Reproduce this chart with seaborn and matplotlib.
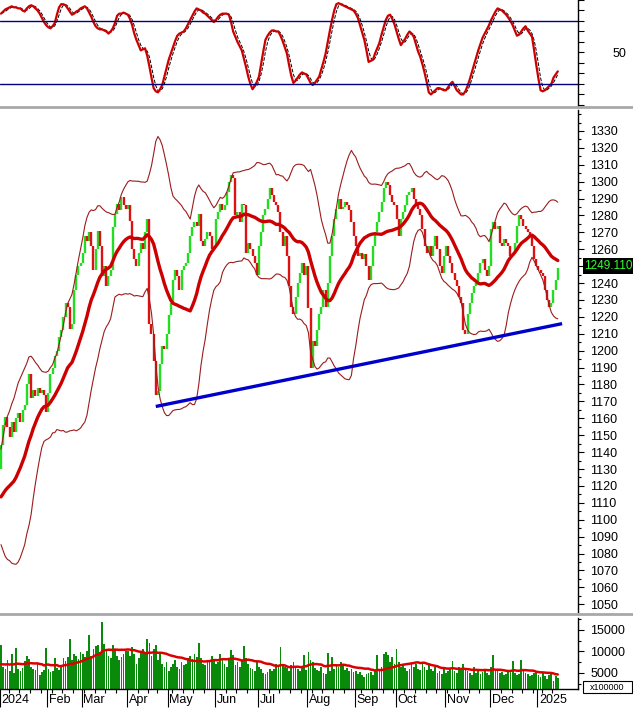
import numpy as np
import pandas as pd
import matplotlib
matplotlib.use("Agg")
import matplotlib.pyplot as plt
import matplotlib.transforms as mtransforms
import seaborn as sns
from matplotlib.lines import Line2D
from matplotlib.patches import Rectangle
from matplotlib.ticker import MultipleLocator, FixedLocator

# ---- data (VN-Index, daily) ----
# last sessions of Dec 2023, only used to warm up the 20-day indicators
warmup_close = [1118, 1122, 1125, 1124, 1131, 1125, 1115, 1104, 1102, 1097,
                1101, 1089, 1099, 1103, 1096, 1107, 1115, 1123, 1130]
warmup_vol = [7000, 6500, 7200, 6800, 7500, 6200, 6800, 7000, 6500, 7200,
              6000, 7500, 6800, 6500, 7000, 6200, 6800, 7200, 6500]

close_jan24 = [1144, 1156, 1161, 1155, 1149, 1158, 1152, 1160, 1163, 1158, 1165,
               1168, 1180, 1186, 1172, 1177, 1173, 1178, 1175, 1177, 1174, 1164]
close_feb24 = [1175, 1186, 1190, 1197, 1200, 1208, 1212, 1220, 1228, 1226, 1213,
               1216, 1236, 1245, 1250, 1252]
close_mar24 = [1258, 1268, 1265, 1270, 1262, 1248, 1260, 1271, 1262, 1244, 1250,
               1238, 1244, 1248, 1273, 1281, 1287, 1283, 1291, 1286, 1284]
close_apr24 = [1286, 1277, 1260, 1254, 1250, 1258, 1264, 1260, 1270, 1278, 1216,
               1210, 1194, 1174, 1176, 1192, 1203, 1201, 1210]
close_may24 = [1221, 1228, 1242, 1248, 1244, 1236, 1248, 1250, 1252, 1258, 1268,
               1273, 1276, 1274, 1281, 1265, 1262, 1266, 1270, 1268, 1260, 1262]
close_jun24 = [1278, 1282, 1287, 1283, 1286, 1294, 1300, 1304, 1302, 1280, 1282,
               1276, 1287, 1286, 1258, 1264, 1260, 1256, 1252, 1245]
close_jul24 = [1262, 1270, 1280, 1284, 1290, 1296, 1292, 1288, 1286, 1282, 1270,
               1262, 1268, 1256, 1238, 1226, 1222, 1232, 1240, 1246, 1252, 1245, 1250]
close_aug24 = [1225, 1190, 1206, 1203, 1212, 1222, 1226, 1236, 1226, 1240, 1256,
               1268, 1278, 1284, 1290, 1284, 1285, 1288, 1286, 1283, 1276, 1268]
close_sep24 = [1262, 1256, 1258, 1254, 1257, 1250, 1242, 1250, 1262, 1270, 1276,
               1282, 1288, 1296, 1300, 1298, 1292, 1288, 1286]
close_oct24 = [1278, 1268, 1278, 1282, 1286, 1292, 1294, 1296, 1290, 1287, 1284,
               1280, 1272, 1262, 1258, 1262, 1256, 1262, 1268, 1260, 1250, 1246, 1256]
close_nov24 = [1262, 1256, 1252, 1246, 1242, 1238, 1232, 1228, 1212, 1210, 1222,
               1228, 1234, 1238, 1240, 1246, 1252, 1254, 1248, 1244, 1250]
close_dec24 = [1272, 1276, 1272, 1274, 1264, 1262, 1266, 1264, 1262, 1256, 1258,
               1264, 1274, 1280, 1278, 1274, 1272, 1270, 1268, 1262, 1254, 1250]
close_jan25 = [1248, 1246, 1244, 1236, 1230, 1226, 1228, 1236, 1242, 1249.11]

# volume in units of 100000 shares
vol_jan24 = [11500, 6500, 6000, 8000, 5500, 9500, 5000, 10800, 6000, 5500, 6200,
             7800, 9000, 8200, 6500, 6000, 5800, 7200, 4500, 5200, 5800, 10800]
vol_feb24 = [6000, 5200, 5500, 8500, 6200, 5800, 6500, 8500, 7800, 8800, 13000,
             8000, 9500, 9000, 8200, 9800]
vol_mar24 = [9500, 8800, 10000, 13900, 9000, 10500, 11200, 11500, 9800, 16800, 11800,
             10200, 9000, 8500, 11600, 10500, 9000, 8000, 8800, 9500, 10000]
vol_apr24 = [10000, 9000, 11000, 9500, 7000, 8500, 9800, 10500, 9500, 12800, 12000,
             9000, 10500, 11500, 8000, 9500, 7000, 6500, 7500]
vol_may24 = [5500, 6500, 7200, 8000, 6500, 6000, 7500, 6800, 7000, 8500, 9000,
             8200, 9500, 8800, 12000, 8500, 7200, 6800, 8000, 7500, 9000, 8200]
vol_jun24 = [7000, 7500, 9500, 8000, 7000, 6500, 8500, 10400, 9200, 6800, 7500,
             6500, 8000, 11200, 8500, 7000, 6200, 6000, 5500, 7500]
vol_jul24 = [6500, 6000, 5000, 4800, 5200, 6000, 5500, 6000, 7200, 6800, 11000,
             7000, 6500, 6200, 5500, 6800, 7500, 6500, 6000, 5500, 6500, 9200, 5800]
vol_aug24 = [9900, 8000, 7500, 6200, 5800, 5500, 6500, 5000, 4800, 9700, 5500,
             8700, 6000, 7000, 6500, 7500, 6800, 5800, 6200, 5500, 6000, 5200]
vol_sep24 = [5500, 4800, 5200, 4500, 4000, 4800, 5000, 5200, 4500, 5500, 9200,
             6000, 6500, 9500, 9800, 9300, 7500, 8800, 7000]
vol_oct24 = [10500, 7500, 6500, 7000, 6200, 5500, 6000, 7000, 6500, 7200, 6000,
             5800, 7500, 6500, 5800, 6800, 6000, 5500, 6500, 5000, 5500, 4800, 6000]
vol_nov24 = [5000, 5500, 6000, 7800, 5500, 5000, 6500, 5800, 7200, 6000, 5500,
             5000, 4500, 6500, 5000, 5500, 4800, 5200, 6000, 5000, 4500]
vol_dec24 = [6500, 9200, 6000, 5500, 5000, 5200, 4500, 4800, 5200, 5500, 7700,
             5000, 4500, 4800, 8000, 5500, 5000, 4800, 4200, 4500, 5000, 5200]
vol_jan25 = [4500, 4000, 5000, 4200, 3500, 4500, 4800, 3200, 4200, 3800]

# stochastic %K as drawn in the upper panel (one value per session)
stoch_k = [87, 89, 91, 92, 93, 94, 93, 93, 92, 92,
           90, 89, 92, 94, 95, 94, 92, 90, 87, 83,
           79, 76, 74, 73, 75, 78, 86, 93, 96, 96,
           95, 92, 89, 86, 87, 89, 90, 92, 93, 94,
           92, 88, 84, 79, 75, 73, 72, 72, 71, 70,
           68, 70, 73, 78, 85, 87, 87, 88, 87, 86,
           82, 76, 68, 62, 57, 52, 53, 54, 47, 37,
           26, 16, 13, 12, 15, 19, 27, 35, 43, 49,
           55, 61, 66, 68, 69, 70, 73, 77, 81, 85,
           89, 92, 91, 90, 88, 87, 85, 83, 81, 79,
           81, 84, 86, 87, 87, 87, 86, 79, 70, 65,
           60, 56, 52, 44, 36, 27, 20, 15, 18, 22,
           27, 39, 51, 62, 66, 69, 71, 71, 70, 70,
           66, 61, 55, 49, 38, 28, 21, 23, 26, 29,
           31, 30, 29, 25, 21, 19, 21, 24, 27, 34,
           41, 49, 60, 71, 81, 90, 96, 97, 96, 95,
           94, 93, 92, 91, 90, 87, 83, 76, 69, 62,
           52, 41, 42, 43, 49, 54, 59, 67, 74, 81,
           85, 86, 82, 77, 70, 63, 57, 60, 63, 67,
           70, 68, 65, 58, 51, 46, 39, 31, 22, 12,
           10, 12, 14, 16, 16, 15, 14, 14, 17, 20,
           22, 18, 14, 12, 10, 10, 13, 18, 24, 31,
           38, 45, 52, 58, 64, 68, 72, 76, 81, 85,
           89, 92, 91, 90, 88, 86, 83, 80, 76, 71,
           66, 67, 70, 73, 75, 71, 68, 65, 52, 38,
           25, 14, 13, 14, 16, 18, 20, 26, 29, 32]

holidays = ["2024-01-01", "2024-02-08", "2024-02-09", "2024-02-12", "2024-02-13",
            "2024-02-14", "2024-04-18", "2024-04-29", "2024-04-30", "2024-05-01",
            "2024-09-02", "2024-09-03", "2025-01-01"]

# support trendline drawn on the chart (session index, price)
trend_idx = [72, 261]
trend_price = [1167, 1216]
last_price = "1249.110"

# ---- indicators ----
closes = (close_jan24 + close_feb24 + close_mar24 + close_apr24 + close_may24 +
          close_jun24 + close_jul24 + close_aug24 + close_sep24 + close_oct24 +
          close_nov24 + close_dec24 + close_jan25)
vols = (vol_jan24 + vol_feb24 + vol_mar24 + vol_apr24 + vol_may24 + vol_jun24 +
        vol_jul24 + vol_aug24 + vol_sep24 + vol_oct24 + vol_nov24 + vol_dec24 + vol_jan25)

c = pd.Series(warmup_close + closes, dtype=float)
v = pd.Series(warmup_vol + vols, dtype=float)
nw = len(warmup_close)

ma = c.rolling(20).mean()
sd = c.rolling(20).std(ddof=0)

df = pd.DataFrame({
    "close": c, "open": c.shift(1), "ma": ma, "upper": ma + 2 * sd, "lower": ma - 2 * sd,
    "vol": v, "vol_ma": v.rolling(20).mean(),
}).iloc[nw:].reset_index(drop=True)
df["k"] = stoch_k
df["d"] = df["k"].rolling(3, min_periods=1).mean()
df["x"] = np.arange(len(df))
df["date"] = pd.date_range("2024-01-02", periods=len(df),
                           freq=pd.offsets.CustomBusinessDay(holidays=holidays))

# ---- figure ----
sns.set_theme(style="white")
plt.rcParams["font.family"] = ["Liberation Sans", "DejaVu Sans"]

W, H = 633, 709
fig = plt.figure(figsize=(W / 100, H / 100), dpi=100)


def px_axes(top, bottom):
    return fig.add_axes([0, 1 - bottom / H, 578 / W, (bottom - top) / H])


ax_top = px_axes(0, 106)
ax = px_axes(110, 612)
ax_vol = px_axes(618, 689)

green = "#22dd22"
red = "#dd1111"

# oscillator
sns.lineplot(data=df, x="x", y="d", ax=ax_top, color="black", lw=0.7, linestyle="--")
sns.lineplot(data=df, x="x", y="k", ax=ax_top, color="#cc0000", lw=1.6)
ax_top.axhline(80, color="#000080", lw=1)
ax_top.axhline(20, color="#000080", lw=1)
ax_top.set_ylim(-1, 100)

# price
up = df["close"] >= df["open"]
ax.vlines(df["x"][up], df["open"][up], df["close"][up], color=green, lw=1.7)
ax.vlines(df["x"][~up], df["open"][~up], df["close"][~up], color=red, lw=1.7)
sns.lineplot(data=df, x="x", y="upper", ax=ax, color="#9b1c1c", lw=0.8)
sns.lineplot(data=df, x="x", y="lower", ax=ax, color="#9b1c1c", lw=0.8)
sns.lineplot(data=df, x="x", y="ma", ax=ax, color="#cc0000", lw=2.4)
ax.plot(trend_idx, trend_price, color="#0000cc", lw=2.4, solid_capstyle="butt")
ax.set_ylim(1045.4, 1342.4)

# volume
ax_vol.bar(df["x"], df["vol"], width=0.8, color="#0a8a0a", linewidth=0)
sns.lineplot(data=df, x="x", y="vol_ma", ax=ax_vol, color="#dd0000", lw=1.8)
ax_vol.set_ylim(1279, 17790)

for a in (ax_top, ax, ax_vol):
    a.set_xlim(-0.47, 268.4)
    a.set_xlabel("")
    a.set_ylabel("")
    a.set_facecolor("white")
    for s in ("left", "top", "bottom"):
        a.spines[s].set_visible(False)
    a.spines["right"].set_color("black")
    a.spines["right"].set_linewidth(1)
    a.yaxis.tick_right()
    a.tick_params(axis="y", which="both", right=True, left=False, direction="out",
                  colors="black", width=0.8, labelsize=9, pad=5)
    a.tick_params(axis="y", which="major", length=4)
    a.tick_params(axis="y", which="minor", length=2.5)
    a.set_xticks([])

# price ticks; the 1250 label sits under the last-price tag
price_ticks = list(range(1050, 1331, 10))
ax.yaxis.set_major_locator(FixedLocator(price_ticks))
ax.set_yticklabels(["" if t == 1250 else str(t) for t in price_ticks])
ax.yaxis.set_minor_locator(MultipleLocator(5))

ax_top.yaxis.set_major_locator(FixedLocator(range(0, 101, 10)))
ax_top.set_yticklabels(["50" if t == 50 else "" for t in range(0, 101, 10)])
ax_top.tick_params(axis="y", pad=21)

ax_vol.yaxis.set_major_locator(FixedLocator([5000, 10000, 15000]))
ax_vol.yaxis.set_minor_locator(MultipleLocator(2500))

# x axis with month ticks
ax_vol.spines["bottom"].set_visible(True)
ax_vol.spines["bottom"].set_color("black")
ax_vol.spines["bottom"].set_linewidth(1)
month_start = df.groupby(df["date"].dt.to_period("M"))["x"].min()
mondays = df.loc[(df["date"].dt.dayofweek == 0) & ~df["x"].isin(month_start.values), "x"]
ax_vol.set_xticks(month_start.values - 0.5)
ax_vol.set_xticks(mondays.values - 0.5, minor=True)
ax_vol.set_xticklabels([])
ax_vol.tick_params(axis="x", which="major", bottom=True, direction="out", length=13,
                   width=0.8, colors="black")
ax_vol.tick_params(axis="x", which="minor", bottom=True, direction="out", length=3,
                   width=0.8, colors="black")
trans = mtransforms.blended_transform_factory(ax_vol.transData, fig.transFigure)
for per, xi in month_start.items():
    lab = str(per.year) if per.month == 1 else per.strftime("%b")
    ax_vol.text(xi + 0.3, 1 - 700 / H, lab, transform=trans, ha="left", va="center",
                fontsize=9, color="black", clip_on=False)

# panel separators
for yy in (107, 614):
    fig.add_artist(Line2D([0, 1], [1 - yy / H, 1 - yy / H], transform=fig.transFigure,
                          color="#a8a8a8", lw=2))

# last price tag
fig.add_artist(Rectangle((583 / W, 1 - 274 / H), 50 / W, 16 / H, transform=fig.transFigure,
                         facecolor="black", edgecolor="none", zorder=5))
fig.text(608 / W, 1 - 266 / H, last_price, color="#33ff33", fontsize=8.5,
         ha="center", va="center", zorder=6)

# volume unit box
fig.add_artist(Rectangle((583 / W, 1 - 693 / H), 49 / W, 12 / H, transform=fig.transFigure,
                         facecolor="white", edgecolor="black", lw=0.8, zorder=5))
fig.text(607.5 / W, 1 - 687 / H, "x100000", color="black", fontsize=6.5,
         ha="center", va="center", zorder=6)

fig.savefig("out.png", dpi=100, facecolor="white")
